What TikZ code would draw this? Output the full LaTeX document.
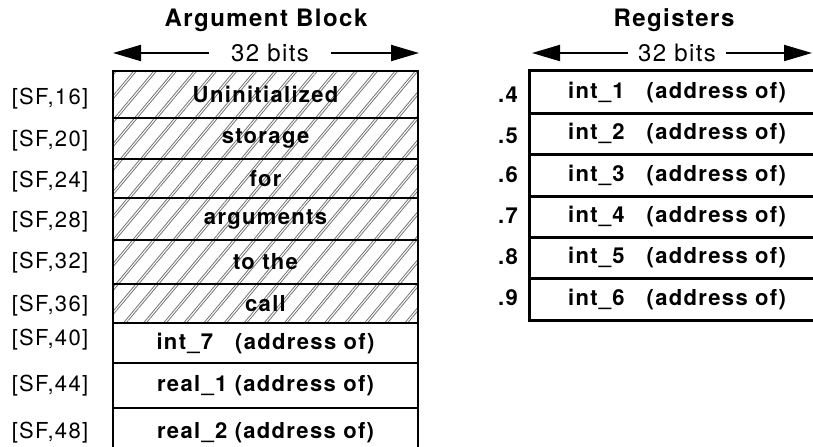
\documentclass[tikz,border=0pt]{standalone}
\usepackage{fontspec}
\setmainfont{TeX Gyre Heros}[LetterSpace=6]
\usetikzlibrary{arrows.meta,patterns.meta}

\tikzset{
  cell/.style={inner sep=0pt, font=\bfseries\fontsize{11}{13}\selectfont},
  argcell/.style={cell, draw, line width=1.2pt, minimum width=152.5pt},
  regcell/.style={cell, minimum width=147pt},
  frame/.style={line width=1.2pt},
  hatched/.style={pattern={Lines[angle=50,distance=7.7pt,line width=.4pt]},
    pattern color=black!55,
    preaction={pattern={Lines[angle=50,distance=7.7pt,line width=.4pt,xshift=1.4pt]},
      pattern color=black!55}},
  offset/.style={font=\fontsize{11}{13}\selectfont},
  regno/.style={font=\bfseries\fontsize{11}{13}\selectfont},
  heading/.style={font=\bfseries\fontsize{12}{14}\selectfont},
  bits/.style={font=\fontsize{12}{14}\selectfont, inner ysep=0pt},
  widtharrow/.style={-{Triangle[length=14pt,width=8pt]}, line width=1pt},
}

\begin{document}
\begin{tikzpicture}[x=0.5pt, y=-0.5pt]

\def\argX{265.5}
\def\regX{677}
\def\offX{50}
\def\regnoX{508}
\def\arrowY{53}

\useasboundingbox (0,0) rectangle (813,446);
\clip (0,0) rectangle (813,446);

% titles and widths
\node[heading] (argtitle) at (266,20) {Argument Block};
\node[heading] (regtitle) at (674,20) {Registers};

\node[bits, inner xsep=11pt] (argbits) at (270,\arrowY) {32 bits};
\coordinate (argleft) at (113,\arrowY);
\coordinate (argright) at (419,\arrowY);
\draw[widtharrow] (argbits) -- (argleft);
\draw[widtharrow] (argbits) -- (argright);

\node[bits, inner xsep=5pt] (regbits) at (677,\arrowY) {32 bits};
\coordinate (regleft) at (532,\arrowY);
\coordinate (regright) at (812,\arrowY);
\draw[widtharrow] (regbits) -- (regleft);
\draw[widtharrow] (regbits) -- (regright);

% argument block
\node[argcell, hatched, minimum height=23.5pt] (sf16) at (\argX,94.5) {Uninitialized};
\node[argcell, hatched, minimum height=20.5pt] (sf20) at (\argX,138.5) {storage};
\node[argcell, hatched, minimum height=19.5pt] (sf24) at (\argX,178.5) {for};
\node[argcell, hatched, minimum height=21pt] (sf28) at (\argX,219) {arguments};
\node[argcell, hatched, minimum height=22pt] (sf32) at (\argX,262) {to the};
\node[argcell, hatched, minimum height=19.5pt] (sf36) at (\argX,303.5) {call};
\node[argcell, minimum height=20pt] (sf40) at (\argX,343) {int\_7\quad(address of)};
\node[argcell, minimum height=22.5pt] (sf44) at (\argX,385.5) {real\_1 (address of)};
\node[argcell, minimum height=25pt] (sf48) at (\argX,433) {real\_2 (address of)};

\node[offset] (off16) at (\offX,99) {[SF,16]};
\node[offset] (off20) at (\offX,141) {[SF,20]};
\node[offset] (off24) at (\offX,182) {[SF,24]};
\node[offset] (off28) at (\offX,222) {[SF,28]};
\node[offset] (off32) at (\offX,263) {[SF,32]};
\node[offset] (off36) at (\offX,306) {[SF,36]};
\node[offset] (off40) at (\offX,340) {[SF,40]};
\node[offset] (off44) at (\offX,386) {[SF,44]};
\node[offset] (off48) at (\offX,433) {[SF,48]};

% registers (right side runs off the page)
\node[regcell, minimum height=21pt] (r4) at (\regX,92) {int\_1\quad(address of)};
\node[regcell, minimum height=20.5pt] (r5) at (\regX,133.5) {int\_2\quad(address of)};
\node[regcell, minimum height=21pt] (r6) at (\regX,175) {int\_3\quad(address of)};
\node[regcell, minimum height=20.5pt] (r7) at (\regX,216.5) {int\_4\quad(address of)};
\node[regcell, minimum height=20.5pt] (r8) at (\regX,257.5) {int\_5\quad(address of)};
\node[regcell, minimum height=21pt] (r9) at (\regX,299) {int\_6\quad(address of)};

\draw[frame] ([xshift=20pt]r4.north east) -- (r4.north west) -- (r9.south west)
  -- ([xshift=20pt]r9.south east);
\draw[frame] (r4.south west) -- ([xshift=20pt]r4.south east);
\draw[frame] (r5.south west) -- ([xshift=20pt]r5.south east);
\draw[frame] (r6.south west) -- ([xshift=20pt]r6.south east);
\draw[frame] (r7.south west) -- ([xshift=20pt]r7.south east);
\draw[frame] (r8.south west) -- ([xshift=20pt]r8.south east);

\node[regno] (no4) at (\regnoX,95) {.4};
\node[regno] (no5) at (\regnoX,136) {.5};
\node[regno] (no6) at (\regnoX,175) {.6};
\node[regno] (no7) at (\regnoX,216) {.7};
\node[regno] (no8) at (\regnoX,257) {.8};
\node[regno] (no9) at (\regnoX,298) {.9};

\end{tikzpicture}
\end{document}
